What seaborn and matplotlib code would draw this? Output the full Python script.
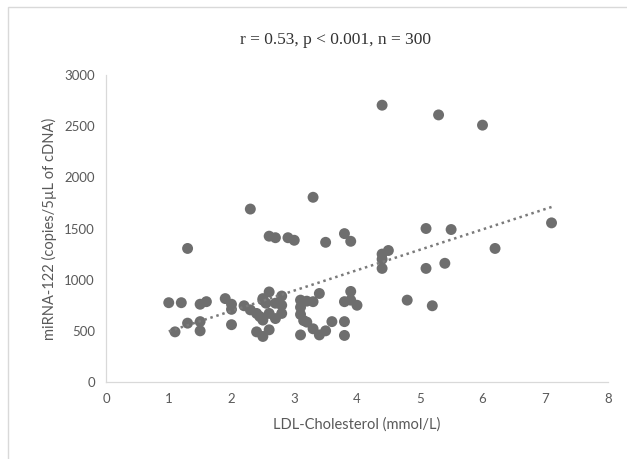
import numpy as np
import pandas as pd
import seaborn as sns
import matplotlib.pyplot as plt
from matplotlib.patches import Rectangle

# LDL-cholesterol (mmol/L) and miRNA-122 (copies/5uL cDNA)
ldl = [1.0, 1.2, 1.1, 1.3, 1.5, 1.6, 1.5, 1.5, 1.3,
       1.9, 2.0, 2.0, 2.0,
       2.2, 2.3, 2.4, 2.45, 2.5, 2.6, 2.55, 2.5, 2.6, 2.8, 2.7, 2.8, 2.8, 2.7,
       2.4, 2.5, 2.6, 2.5,
       2.3, 2.6, 2.7, 2.9, 3.0,
       3.1, 3.2, 3.3, 3.1, 3.1, 3.15, 3.2, 3.1, 3.3, 3.4, 3.4, 3.5, 3.6, 3.3,
       3.5, 3.8, 3.9,
       3.8, 3.8, 3.8, 3.9, 4.0, 3.9,
       4.4, 4.4, 4.5, 4.4,
       4.8, 5.1, 5.2, 5.1, 5.4, 5.5, 6.2, 7.1,
       4.4, 5.3, 6.0]
mirna = [775, 775, 490, 575, 760, 785, 590, 500, 1305,
         815, 760, 710, 560,
         745, 705, 670, 640, 815, 880, 770, 605, 670, 840, 770, 750, 670, 620,
         490, 445, 510, 800,
         1690, 1425, 1410, 1410, 1385,
         800, 790, 785, 730, 660, 600, 585, 460, 520, 865, 460, 500, 590, 1805,
         1365, 1450, 1375,
         785, 590, 455, 885, 750, 800,
         1250, 1200, 1285, 1110,
         800, 1500, 745, 1110, 1160, 1490, 1305, 1555,
         2705, 2610, 2510]

# dotted linear trend line end points
trend_x = [1.0, 7.1]
trend_y = [495, 1710]

x_ticks = [0, 1, 2, 3, 4, 5, 6, 7, 8]
y_ticks = [0, 500, 1000, 1500, 2000, 2500, 3000]

df = pd.DataFrame({'ldl': ldl, 'mirna': mirna})
trend = pd.DataFrame({'x': trend_x, 'y': trend_y})

sns.set_style('white')
plt.rcParams['font.family'] = ['Lato', 'DejaVu Sans']

fig = plt.figure(figsize=(6.27, 4.59), dpi=100)
ax = fig.add_axes([106 / 627, 1 - 382 / 459, 502 / 627, 307 / 459])

sns.lineplot(data=trend, x='x', y='y', ax=ax, color='#7a7a7a',
             linestyle=(0, (1, 1.5)), linewidth=1.8)
sns.scatterplot(data=df, x='ldl', y='mirna', ax=ax, color='#6e6e6e',
                s=62, edgecolor='none', alpha=1)

ax.set_xlim(0, 8)
ax.set_ylim(0, 3000)
ax.set_xticks(x_ticks)
ax.set_yticks(y_ticks)
ax.tick_params(length=0, labelsize=9.5, colors='#595959', pad=8)

for s in ['top', 'right']:
    ax.spines[s].set_visible(False)
for s in ['left', 'bottom']:
    ax.spines[s].set_color('#d9d9d9')
    ax.spines[s].set_linewidth(0.9)

ax.set_xlabel('LDL-Cholesterol (mmol/L)', fontsize=10.5, color='#595959', labelpad=9)
ax.set_ylabel('miRNA-122 (copies/5µL of cDNA)', fontsize=10.5, color='#595959', labelpad=5)

fig.text(335 / 627, 1 - 40 / 459, 'r = 0.53, p < 0.001, n = 300',
         family='Liberation Serif', fontsize=12.5, color='#333333',
         ha='center', va='center')

fig.patches.append(Rectangle((8 / 627, -0.05), 1.0, 1 - 7 / 459 + 0.05,
                             transform=fig.transFigure, fill=False,
                             edgecolor='#d9d9d9', linewidth=1.0))

fig.savefig('out.png', dpi=100)
